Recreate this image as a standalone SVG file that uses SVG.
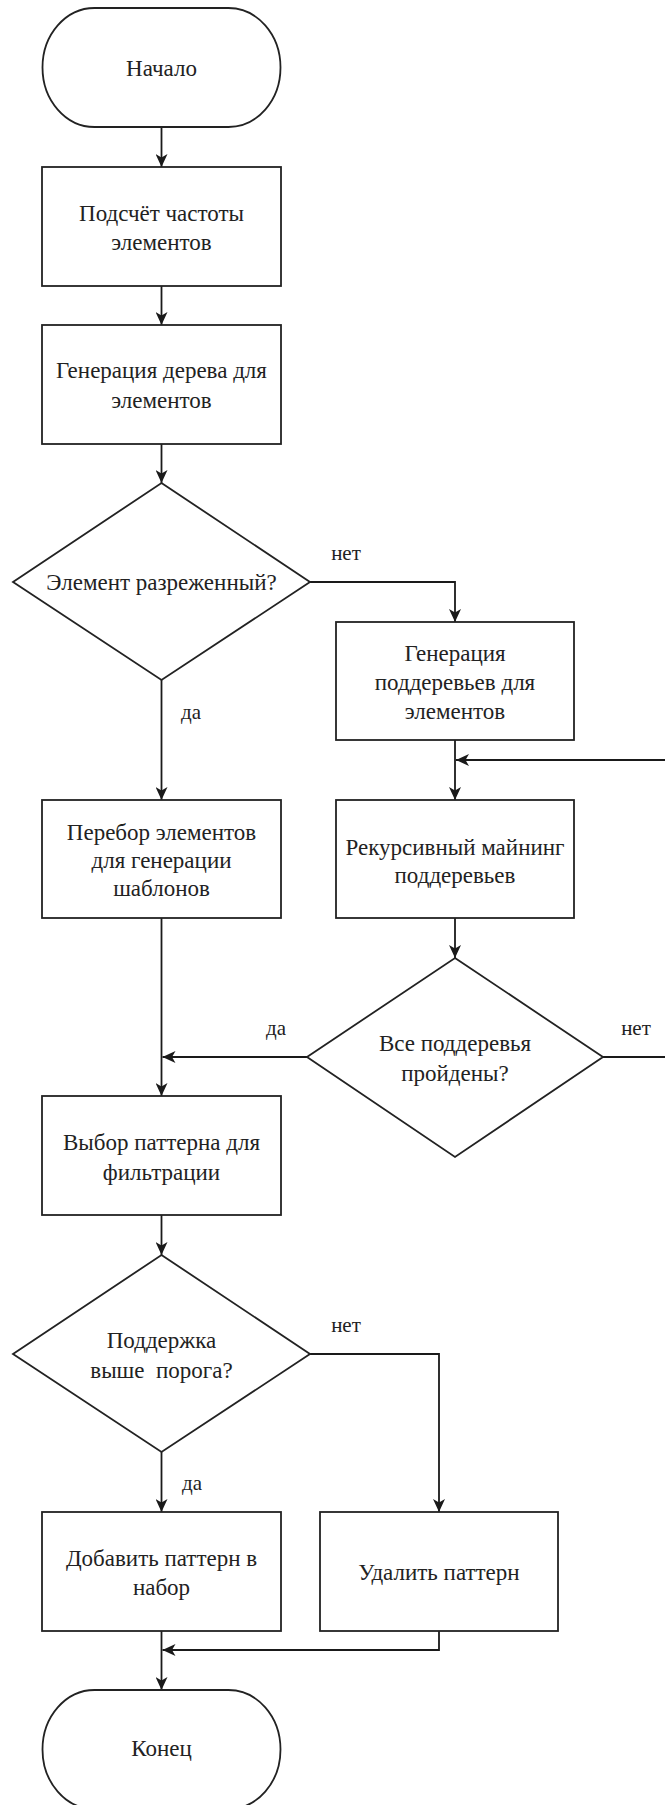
<svg xmlns="http://www.w3.org/2000/svg" width="665" height="1805" viewBox="0 0 665 1805">
  <style>
    .shape { fill: #ffffff; stroke: #222222; stroke-width: 1.8; }
    .edge { fill: none; stroke: #1a1a1a; stroke-width: 1.8; }
    .txt { font-family: "Liberation Serif", "Times New Roman", serif; font-size: 23px; fill: #222222; text-anchor: middle; }
    .lbl { font-family: "Liberation Serif", "Times New Roman", serif; font-size: 21px; fill: #222222; text-anchor: middle; }
  </style>
  <defs>
    <marker id="arrow" viewBox="0 0 13 12" refX="13" refY="6" markerWidth="13" markerHeight="12" markerUnits="userSpaceOnUse" orient="auto">
      <path d="M0,0 L13,6 L0,12 L3.5,6 Z" fill="#1a1a1a"/>
    </marker>
  </defs>
  <rect width="665" height="1805" fill="#ffffff"/>

  <!-- connectors -->
  <g id="connectors">
    <path class="edge" d="M161.5,127 V167" marker-end="url(#arrow)"/>
    <path class="edge" d="M161.5,286 V325" marker-end="url(#arrow)"/>
    <path class="edge" d="M161.5,444 V483" marker-end="url(#arrow)"/>
    <path class="edge" d="M161.5,680 V800" marker-end="url(#arrow)"/>
    <path class="edge" d="M310,582 H455 V622" marker-end="url(#arrow)"/>
    <path class="edge" d="M455,740 V800" marker-end="url(#arrow)"/>
    <path class="edge" d="M603,1057 H690 V760 H456" marker-end="url(#arrow)"/>
    <path class="edge" d="M455,918 V958" marker-end="url(#arrow)"/>
    <path class="edge" d="M161.5,918 V1096" marker-end="url(#arrow)"/>
    <path class="edge" d="M307,1057 H162.5" marker-end="url(#arrow)"/>
    <path class="edge" d="M161.5,1215 V1255" marker-end="url(#arrow)"/>
    <path class="edge" d="M161.5,1452 V1512" marker-end="url(#arrow)"/>
    <path class="edge" d="M310,1354 H439 V1512" marker-end="url(#arrow)"/>
    <path class="edge" d="M439,1631 V1650 H162.5" marker-end="url(#arrow)"/>
    <path class="edge" d="M161.5,1631 V1690" marker-end="url(#arrow)"/>
    <!-- branch labels -->
    <text class="lbl" x="346" y="560">нет</text>
    <text class="lbl" x="191" y="719">да</text>
    <text class="lbl" x="276" y="1035">да</text>
    <text class="lbl" x="636" y="1035">нет</text>
    <text class="lbl" x="346" y="1332">нет</text>
    <text class="lbl" x="192" y="1490">да</text>
  </g>

  <g id="start">
    <rect class="shape" x="42.5" y="8" width="238" height="119" rx="52" ry="59.5"/>
    <text class="txt" x="161.5" y="76">Начало</text>
  </g>

  <g id="count-freq">
    <rect class="shape" x="42" y="167" width="239" height="119"/>
    <text class="txt" x="161.5" y="221">Подсчёт частоты</text>
    <text class="txt" x="161.5" y="250">элементов</text>
  </g>

  <g id="build-tree">
    <rect class="shape" x="42" y="325" width="239" height="119"/>
    <text class="txt" x="161.5" y="378">Генерация дерева для</text>
    <text class="txt" x="161.5" y="408">элементов</text>
  </g>

  <g id="is-sparse">
    <polygon class="shape" points="161.5,483 310,582 161.5,680 13,582"/>
    <text class="txt" x="161.5" y="590">Элемент разреженный?</text>
  </g>

  <g id="enumerate">
    <rect class="shape" x="42" y="800" width="239" height="118"/>
    <text class="txt" x="161.5" y="840">Перебор элементов</text>
    <text class="txt" x="161.5" y="868">для генерации</text>
    <text class="txt" x="161.5" y="896">шаблонов</text>
  </g>

  <g id="build-subtrees">
    <rect class="shape" x="336" y="622" width="238" height="118"/>
    <text class="txt" x="455" y="661">Генерация</text>
    <text class="txt" x="455" y="690">поддеревьев для</text>
    <text class="txt" x="455" y="719">элементов</text>
  </g>

  <g id="mine-subtrees">
    <rect class="shape" x="336" y="800" width="238" height="118"/>
    <text class="txt" x="455" y="855">Рекурсивный майнинг</text>
    <text class="txt" x="455" y="883">поддеревьев</text>
  </g>

  <g id="all-done">
    <polygon class="shape" points="455,958 603,1057 455,1157 307,1057"/>
    <text class="txt" x="455" y="1051">Все поддеревья</text>
    <text class="txt" x="455" y="1081">пройдены?</text>
  </g>

  <g id="pick-pattern">
    <rect class="shape" x="42" y="1096" width="239" height="119"/>
    <text class="txt" x="161.5" y="1150">Выбор паттерна для</text>
    <text class="txt" x="161.5" y="1180">фильтрации</text>
  </g>

  <g id="support-check">
    <polygon class="shape" points="161.5,1255 310,1354 161.5,1452 13,1354"/>
    <text class="txt" x="161.5" y="1348">Поддержка</text>
    <text class="txt" x="161.5" y="1378" xml:space="preserve">выше  порога?</text>
  </g>

  <g id="add-pattern">
    <rect class="shape" x="42" y="1512" width="239" height="119"/>
    <text class="txt" x="161.5" y="1566">Добавить паттерн в</text>
    <text class="txt" x="161.5" y="1595">набор</text>
  </g>

  <g id="drop-pattern">
    <rect class="shape" x="320" y="1512" width="238" height="119"/>
    <text class="txt" x="439" y="1580">Удалить паттерн</text>
  </g>

  <g id="end">
    <rect class="shape" x="42.5" y="1690" width="238" height="119" rx="52" ry="59.5"/>
    <text class="txt" x="161.5" y="1756">Конец</text>
  </g>
</svg>
